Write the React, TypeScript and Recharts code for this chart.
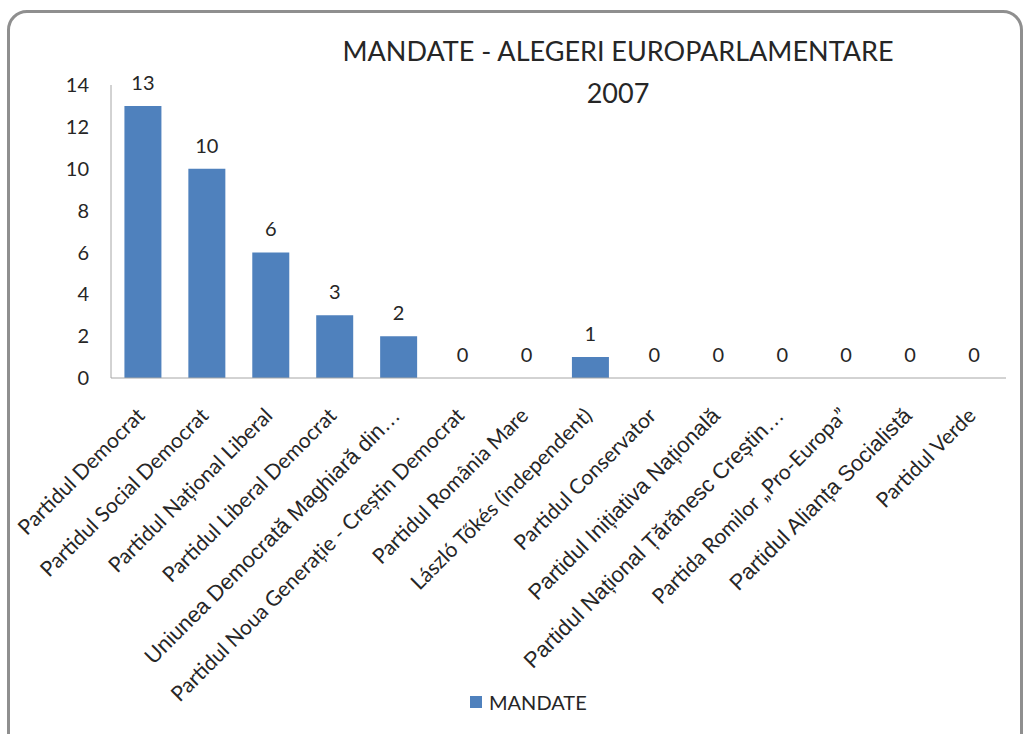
import { Bar, BarChart, LabelList, Legend, XAxis, YAxis } from "recharts";

const parties = [
  "Partidul Democrat",
  "Partidul Social Democrat",
  "Partidul Național Liberal",
  "Partidul Liberal Democrat",
  "Uniunea Democrată Maghiară din…",
  "Partidul Noua Generație - Creștin Democrat",
  "Partidul România Mare",
  "László Tőkés (independent)",
  "Partidul Conservator",
  "Partidul Inițiativa Națională",
  "Partidul Național Țărănesc Creștin…",
  "Partida Romilor „Pro-Europa”",
  "Partidul Alianța Socialistă",
  "Partidul Verde",
];

const mandates = [13, 10, 6, 3, 2, 0, 0, 1, 0, 0, 0, 0, 0, 0];

const yTicks = [0, 2, 4, 6, 8, 10, 12, 14];

const data = parties.map((name, i) => ({ name, MANDATE: mandates[i] }));

// these labels came out in a bigger, arial-ish font in the original
const bigLabels = new Set([4, 9, 10, 12]);

const BLUE = "#4F81BD";
const TEXT = "#262626";
const CALIBRI = "Lato, 'Open Sans', sans-serif";

function PartyTick(props: any) {
  const { x, y, payload, index } = props;
  const big = bigLabels.has(index);
  return (
    <g transform={`translate(${x + 3},${y + 39}) rotate(-45)`}>
      <text
        x={0}
        y={0}
        textAnchor="end"
        fill={TEXT}
        fontSize={big ? 22 : 21}
        fontFamily={big ? "'Liberation Sans', Arial, sans-serif" : CALIBRI}
      >
        {payload.value}
      </text>
    </g>
  );
}

function LegendBox() {
  return (
    <div style={{ display: "flex", alignItems: "center", gap: 7 }}>
      <div style={{ width: 12, height: 12, background: BLUE }} />
      <span style={{ fontFamily: CALIBRI, fontSize: 20, color: TEXT }}>MANDATE</span>
    </div>
  );
}

export default function App() {
  return (
    <div
      style={{
        position: "absolute",
        left: 0,
        top: 0,
        width: 1025,
        height: 734,
        overflow: "hidden",
        background: "#fff",
      }}
    >
      <div
        style={{
          position: "absolute",
          left: 7,
          top: 10,
          width: 1010,
          height: 760,
          border: "3px solid #8f8f8f",
          borderRadius: 20,
        }}
      />
      <div
        style={{
          position: "absolute",
          left: 0,
          top: 0,
          width: 1025,
          height: 734,
        }}
      >
        <BarChart
          width={1025}
          height={734}
          data={data}
          margin={{ top: 85, right: 19, left: 0, bottom: 0 }}
          barCategoryGap="21%"
        >
          <XAxis
            dataKey="name"
            interval={0}
            height={356}
            tickLine={false}
            tickSize={0}
            tickMargin={0}
            axisLine={{ stroke: "#a6a6a6" }}
            tick={<PartyTick />}
          />
          <YAxis
            width={111}
            domain={[0, 14]}
            ticks={yTicks}
            interval={0}
            tickLine={false}
            tickSize={0}
            tickMargin={22}
            axisLine={{ stroke: "#a6a6a6" }}
            tick={{ fill: TEXT, fontSize: 20, fontFamily: CALIBRI }}
          />
          <Legend
            layout="horizontal"
            verticalAlign="middle"
            align="center"
            content={<LegendBox />}
            wrapperStyle={{ top: 690, left: 470, width: "auto" }}
          />
          <Bar
            dataKey="MANDATE"
            fill={BLUE}
            minPointSize={0.001}
            isAnimationActive={false}
          >
            <LabelList
              dataKey="MANDATE"
              position="top"
              offset={16}
              fill={TEXT}
              fontSize={20}
              fontFamily={CALIBRI}
            />
          </Bar>
        </BarChart>
      </div>
      <div
        style={{
          position: "absolute",
          left: 318,
          width: 600,
          top: 30,
          textAlign: "center",
          fontFamily: CALIBRI,
          fontSize: 27,
          lineHeight: "42px",
          color: TEXT,
        }}
      >
        MANDATE - ALEGERI EUROPARLAMENTARE
        <br />
        2007
      </div>
    </div>
  );
}
